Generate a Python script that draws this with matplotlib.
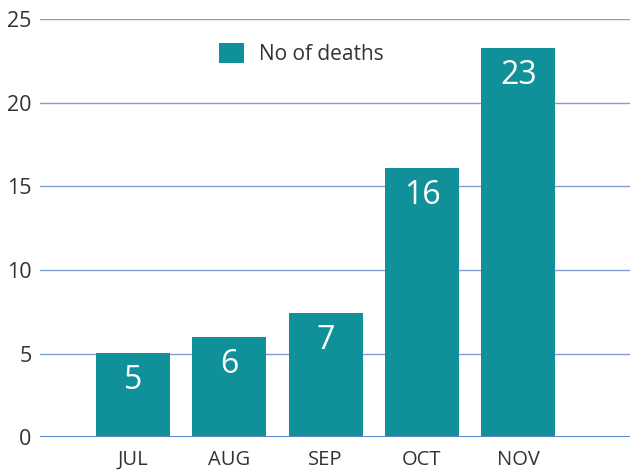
import numpy as np
import matplotlib
matplotlib.use('Agg')
import matplotlib.pyplot as plt

months = ['JUL', 'AUG', 'SEP', 'OCT', 'NOV']
deaths = [5.04, 6.02, 7.43, 16.12, 23.28]
labels = ['5', '6', '7', '16', '23']
yticks = [0, 5, 10, 15, 20, 25]

plt.rcParams['font.family'] = ['Open Sans', 'DejaVu Sans']

bar_color = '#10919a'
grid_color = '#7f9fd2'

fig = plt.figure(figsize=(6.3, 4.7), dpi=100)
ax = fig.add_axes([0.0635, 0.0696, 0.9365, 0.8894])

x = np.arange(1, len(months) + 1)
bars = ax.bar(x, deaths, width=0.77, color=bar_color, label='No of deaths', zorder=3)

for b, lab in zip(bars, labels):
    ax.annotate(lab, (b.get_x() + b.get_width() / 2, b.get_height()),
                xytext=(0, -20), textcoords='offset points',
                ha='center', va='center', color='white', fontsize=23, zorder=4)

ax.set_xlim(0.034, 6.16)
ax.set_ylim(0, 25)
ax.set_yticks(yticks)
ax.set_xticks(x)
ax.set_xticklabels(months)

for v in yticks[1:]:
    ax.axhline(v, color=grid_color, lw=1.0, zorder=1)
ax.axhline(0, color='#5b87c5', lw=2.2, zorder=5)

for s in ax.spines.values():
    s.set_visible(False)
ax.tick_params(axis='both', length=0, colors='#333333')
ax.tick_params(axis='y', labelsize=15.5, pad=6)
ax.tick_params(axis='x', labelsize=14.5, pad=9)

fig.legend(loc='center', bbox_to_anchor=(0.478, 0.885), frameon=False,
           fontsize=15, handlelength=1.2, handleheight=1.1, handletextpad=0.7,
           labelcolor='#333333')

fig.savefig('out.png', dpi=100)
